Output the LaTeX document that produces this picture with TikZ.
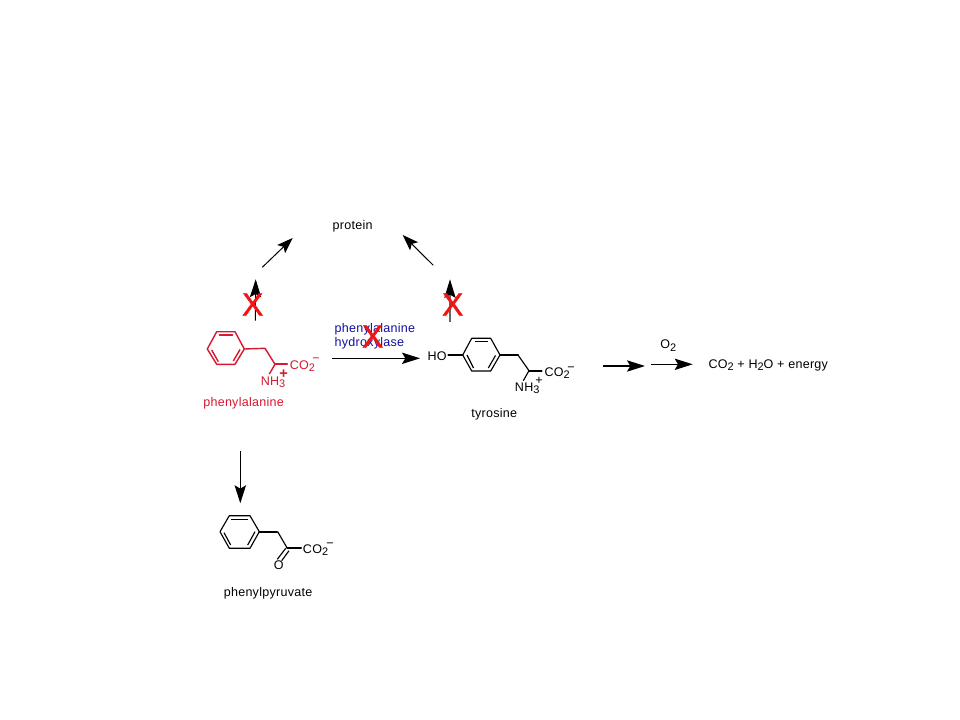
\documentclass[tikz,border=0pt]{standalone}
\usepackage{fontspec}
\setmainfont[LetterSpace=2.2]{Liberation Sans}
\newfontfamily\crossfont[FakeBold=1.2]{Liberation Sans}
\usetikzlibrary{arrows.meta}
\definecolor{molred}{HTML}{D8182F}
\definecolor{crossred}{HTML}{F01414}
\definecolor{enzblue}{HTML}{1010A0}
\newcommand{\lowidx}[1]{\raisebox{-0.32ex}{\fontsize{8.2pt}{9pt}\selectfont #1}}
\tikzset{
  lab/.style={anchor=base west,inner sep=0pt,font=\fontsize{9.4pt}{11pt}\selectfont},
  chg/.style={inner sep=0pt,font=\fontsize{9.4pt}{11pt}\selectfont},
  cross/.style={inner sep=0pt,text=crossred,font=\fontsize{24pt}{26pt}\crossfont},
  rxn/.style={line width=0.75pt,-{Stealth[length=13.5pt,width=8.5pt,inset=2.5pt]}},
  rxnshort/.style={line width=0.75pt,-{Stealth[length=12pt,width=8.5pt,inset=2.5pt]}},
  rxnbold/.style={line width=1.1pt,-{Stealth[length=13.5pt,width=8.5pt,inset=2.5pt]}},
  rxngrey/.style={line width=1pt,draw=black!60,-{Stealth[length=14pt,width=8.5pt,inset=2.5pt,color=black]}},
  bond/.style={line width=0.85pt,line join=round},
  redbond/.style={line width=1.05pt,line join=round},
  tbond/.style={line width=1.6pt,line cap=round}
}
\begin{document}
\begin{tikzpicture}[x=0.75pt,y=-0.75pt]
\useasboundingbox (0,0) rectangle (960,720);
\fill[white] (0,0) rectangle (960,720);

% free ends of the reaction arrows
\coordinate (pheUpS) at (255.3,320.7); \coordinate (pheUpE) at (255.7,279.3);
\coordinate (tyrUpS) at (450,321.7);   \coordinate (tyrUpE) at (450,279.3);
\coordinate (toProtLS) at (262.3,267.3); \coordinate (toProtLE) at (292.7,238);
\coordinate (toProtRS) at (433.3,265.3); \coordinate (toProtRE) at (402.7,235);
\coordinate (hydS) at (332.3,358.3); \coordinate (hydE) at (420,358.3);
\coordinate (tyrOutS) at (603.3,366); \coordinate (tyrOutE) at (645,366);
\coordinate (oxS) at (650.7,364.3); \coordinate (oxE) at (692.7,364.3);
\coordinate (pyrS) at (240.3,451); \coordinate (pyrE) at (240.3,503.3);

% phenylalanine
\begin{scope}[draw=molred,text=molred,color=molred]
\draw[redbond] (207.3,349) -- (216.7,331.7) -- (235,331.7) -- (244.3,349) -- (235,364.3) -- (216.7,364.3) -- cycle;
\draw[tbond] (219.6,335) -- (232.4,335);
\draw[redbond] (240,349.5) -- (233.3,361);
\draw[redbond] (211.7,350) -- (218.3,361.7);
\draw[redbond] (244.3,349) -- (265,348.3) -- (275,364.3);
\draw[tbond] (275,364.3) -- (287,364.3);
\draw[redbond] (275,364.3) -- (269.3,374);
\node[lab] (pheCO) at (289.5,369.3) {CO\lowidx{2}};
\node[chg] (pheMinus) at (316,360) {−};
\node[lab] (pheNH) at (260.5,385) {NH\lowidx{3}};
\node[chg,font=\fontsize{11pt}{11pt}\selectfont\bfseries] (phePlus) at (283.7,374.5) {+};
\node[lab] (pheName) at (203,406) {phenylalanine};
\end{scope}

% tyrosine
\draw[bond] (462.7,355) -- (471.7,338.3) -- (490.7,338.3) -- (500,355) -- (490.7,371) -- (471.7,371) -- cycle;
\draw[bond] (474.5,341.7) -- (488,341.7);
\draw[bond] (495.5,355.5) -- (488.3,368);
\draw[bond] (467,355) -- (473.5,368);
\draw[tbond] (448.3,355) -- (462.7,355);
\draw[tbond] (500,355) -- (518,355);
\draw[bond] (518,355) -- (529,370.7) -- (523.3,380.7);
\draw[tbond] (529,370.7) -- (541.5,370.7);
\node[lab] (tyrHO) at (427.3,360) {HO};
\node[lab] (tyrCO) at (544.3,376) {CO\lowidx{2}};
\node[chg] (tyrMinus) at (571,369) {−};
\node[lab] (tyrNH) at (514.7,391.7) {NH\lowidx{3}};
\node[chg] (tyrPlus) at (539,380.5) {+};
\node[lab] (tyrName) at (471,417) {tyrosine};

% phenylpyruvate
\draw[bond] (220,531.7) -- (229.3,515.7) -- (250,515.7) -- (259.3,531.7) -- (250,548.3) -- (229.3,548.3) -- cycle;
\draw[bond] (231,519.3) -- (247.7,519.3);
\draw[bond] (255,531.7) -- (247.7,545);
\draw[bond] (224,532.7) -- (230.7,545);
\draw[tbond] (259.3,531.7) -- (277,531.7);
\draw[bond] (277.7,531.7) -- (287.3,548.3);
\draw[tbond] (287.3,548.3) -- (301,548.3);
\draw[bond] (285.7,548.3) -- (277.3,559.3);
\draw[bond] (289,550.7) -- (281.7,560.7);
\node[lab] (pyrO) at (273.5,569) {O};
\node[lab] (pyrCO) at (302.7,553.3) {CO\lowidx{2}};
\node[chg] (pyrMinus) at (330,545) {−};
\node[lab] (pyrName) at (223.5,596.7) {phenylpyruvate};

% other labels
\node[lab] (protein) at (332.3,230) {protein};
\node[lab,text=enzblue] (enzA) at (334.3,332.3) {phenylalanine};
\node[lab,text=enzblue] (enzB) at (334.3,346) {hydroxylase};
\node[lab] (oxygen) at (660,349) {O\lowidx{2}};
\node[lab] (products) at (708.3,368.3) {CO\lowidx{2} + H\lowidx{2}O + energy};

% reaction arrows
\draw[rxn] (pheUpS) -- (pheUpE);
\draw[rxngrey] (tyrUpS) -- (tyrUpE);
\draw[rxnshort] (toProtLS) -- (toProtLE);
\draw[rxnshort] (toProtRS) -- (toProtRE);
\draw[rxn] (hydS) -- (hydE);
\draw[rxnbold] (tyrOutS) -- (tyrOutE);
\draw[rxn] (oxS) -- (oxE);
\draw[rxn] (pyrS) -- (pyrE);

% block marks
\node[cross] (crossPhe) at (252.7,304.5) {X};
\node[cross] (crossTyr) at (452.7,304.5) {X};
\node[cross] (crossEnz) at (372.7,336.5) {X};
\end{tikzpicture}
\end{document}
